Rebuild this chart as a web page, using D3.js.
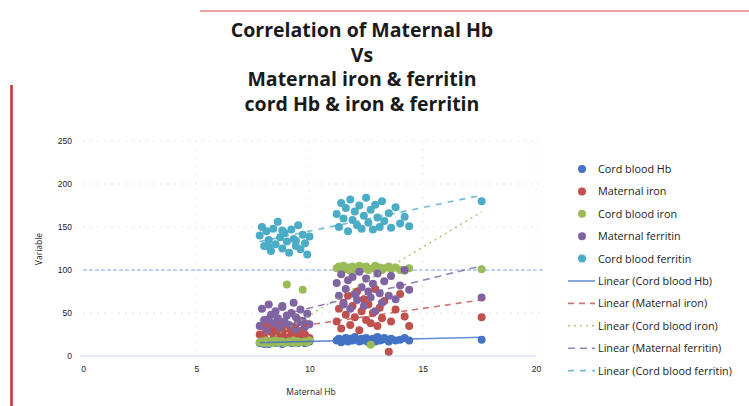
<!DOCTYPE html>
<html>
<head>
<meta charset="utf-8">
<script src="https://cdn.jsdelivr.net/npm/d3@7"></script>
<style>
  body { margin: 0; background: #fff; }
  svg { display: block; font-family: "Open Sans", "Liberation Sans", sans-serif; }
</style>
</head>
<body>
<div id="chart"></div>
<script>
// maternal Hb of each patient (x axis)
let matHb = [7.8, 7.9, 8.0, 8.1, 8.2, 8.3, 8.4, 8.5, 8.6, 8.7, 8.8, 8.9, 9.0, 9.1, 9.2, 9.3, 9.4, 9.5, 9.6, 9.7, 9.8, 9.9, 10.0, 8.2, 8.8, 9.4,
  11.2, 11.3, 11.4, 11.5, 11.6, 11.7, 11.8, 11.9, 12.0, 12.1, 12.2, 12.3, 12.4, 12.5, 12.6, 12.7, 12.8, 12.9, 13.0, 13.1, 13.2, 13.3, 13.5, 13.6, 13.8, 14.0, 14.2, 14.4,
  17.6];

let cordHb = [15, 16, 14, 17, 15, 16, 18, 15, 16, 17, 14, 15, 16, 17, 15, 16, 18, 15, 17, 16, 15, 16, 17, 14, 18, 16,
  18, 20, 16, 19, 21, 17, 20, 18, 22, 19, 17, 20, 18, 21, 16, 19, 20, 17, 22, 18, 19, 21, 17, 20, 18, 19, 21, 18,
  19];
let matIron = [25, 35, 22, 30, 38, 28, 20, 33, 26, 40, 24, 31, 36, 22, 29, 34, 27, 42, 23, 30, 25, 37, 21, 32, 28, 26,
  40, 55, 32, 62, 48, 70, 36, 58, 45, 75, 30, 52, 66, 42, 60, 38, 50, 78, 35, 56, 44, 64, 5, 40, 54, 72, 46, 35,
  45];
let cordIron = [16, 17, 15, 18, 16, 17, 15, 18, 16, 17, 16, 15, 83, 17, 16, 18, 15, 17, 16, 77, 17, 16, 18, 15, 17, 16,
  102, 104, 100, 105, 101, 103, 99, 104, 102, 100, 105, 101, 103, 104, 100, 13, 102, 105, 101, 103, 100, 102, 104, 101, 103, 100, 99, 102,
  101];
let matFerritin = [35, 55, 42, 30, 60, 48, 38, 52, 44, 33, 58, 40, 47, 36, 50, 62, 45, 39, 54, 41, 34, 49, 37, 43, 57, 31,
  85, 70, 95, 60, 78, 88, 55, 92, 72, 65, 98, 80, 58, 90, 75, 68, 84, 52, 96, 73, 62, 87, 70, 93, 66, 82, 100, 77,
  68];
let cordFerritin = [140, 150, 128, 145, 135, 122, 148, 130, 156, 138, 125, 143, 133, 120, 147, 136, 128, 152, 124, 141, 131, 118, 139, 127, 146, 134,
  165, 150, 178, 160, 172, 145, 182, 158, 168, 152, 175, 148, 163, 184, 155, 170, 147, 176, 161, 150, 180, 157, 166, 149, 173, 154, 162, 151,
  180];

let seriesNames = ["Cord blood Hb", "Maternal iron", "Cord blood iron", "Maternal ferritin", "Cord blood ferritin"];
let seriesValues = [cordHb, matIron, cordIron, matFerritin, cordFerritin];
let seriesColors = ["#4472C4", "#C0504D", "#9BBB59", "#8064A2", "#4BACC6"];
let trendDash = [null, "6,5", "2,4", "7,5", "6,6"];

let xTicks = [0, 5, 10, 15, 20];
let yTicks = [0, 50, 100, 150, 200, 250];
let titleLines = ["Correlation of Maternal Hb", "Vs", "Maternal iron & ferritin", "cord Hb & iron & ferritin"];

let width = 749, height = 406;
let svg = d3.select("#chart").append("svg").attr("width", width).attr("height", height);

// decoration lines of the slide
svg.append("line").attr("x1", 200).attr("x2", 749).attr("y1", 11).attr("y2", 11)
  .attr("stroke", "#eba3a3").attr("stroke-width", 2);
svg.append("line").attr("x1", 11.5).attr("x2", 11.5).attr("y1", 85).attr("y2", 406)
  .attr("stroke", "#c9302c").attr("stroke-width", 2.5);

// title
svg.append("g").selectAll("text").data(titleLines).enter().append("text")
  .attr("x", 362).attr("y", (d, i) => 37 + i * 24.5)
  .attr("text-anchor", "middle").attr("font-size", 19.5).attr("font-weight", "bold")
  .attr("fill", "#1a1a1a").text(d => d);

let xScale = d3.scaleLinear().domain([0, 20]).range([83, 536]);
let yScale = d3.scaleLinear().domain([0, 250]).range([356, 141]);

// gridlines
svg.append("g").selectAll("line").data(yTicks.filter(t => t > 0)).enter().append("line")
  .attr("x1", 83).attr("x2", 545)
  .attr("y1", d => yScale(d)).attr("y2", d => yScale(d))
  .attr("stroke", d => d === 100 ? "#aac4ee" : "#dde7f7")
  .attr("stroke-width", d => d === 100 ? 1.3 : 1)
  .attr("stroke-dasharray", d => d === 100 ? "4,2" : "2,5");
svg.append("g").selectAll("line").data(xTicks.filter(t => t > 0)).enter().append("line")
  .attr("x1", d => xScale(d)).attr("x2", d => xScale(d))
  .attr("y1", yScale(250)).attr("y2", yScale(0))
  .attr("stroke", "#e2ebf8").attr("stroke-dasharray", "2,6");

// axes
let xAxis = d3.axisBottom(xScale).tickValues(xTicks).tickSize(0).tickPadding(10);
let gx = svg.append("g").attr("transform", "translate(0," + yScale(0) + ")").call(xAxis);
gx.select(".domain").attr("stroke", "#c5d6f0").attr("d", "M80,0H536");
gx.selectAll("text").attr("font-size", 8.5).attr("fill", "#222");

let yAxis = d3.axisLeft(yScale).tickValues(yTicks).tickSize(0).tickPadding(8);
let gy = svg.append("g").attr("transform", "translate(80,0)").call(yAxis);
gy.select(".domain").remove();
gy.selectAll("text").attr("font-size", 8.5).attr("fill", "#222");

svg.append("text").attr("x", 311).attr("y", 395).attr("text-anchor", "middle")
  .attr("font-size", 8.5).attr("fill", "#222").text("Maternal Hb");
svg.append("text").attr("transform", "translate(42,249) rotate(-90)").attr("text-anchor", "middle")
  .attr("font-size", 8.5).attr("fill", "#222").text("Variable");

// linear trend of a series against maternal Hb
function linearFit(ys) {
  let mx = d3.mean(matHb), my = d3.mean(ys);
  let sxy = d3.sum(matHb, (x, i) => (x - mx) * (ys[i] - my));
  let sxx = d3.sum(matHb, x => (x - mx) * (x - mx));
  let b = sxy / sxx;
  let a = my - b * mx;
  let xs = d3.extent(matHb);
  return xs.map(x => [x, a + b * x]);
}

// points
seriesValues.forEach(function(vals, s) {
  svg.append("g").selectAll("circle").data(vals).enter().append("circle")
    .attr("cx", (d, i) => xScale(matHb[i]))
    .attr("cy", d => yScale(d))
    .attr("r", 4)
    .attr("fill", seriesColors[s]);
});

// trendlines
let line = d3.line().x(d => xScale(d[0])).y(d => yScale(d[1]));
seriesValues.forEach(function(vals, s) {
  svg.append("path").datum(linearFit(vals))
    .attr("d", line).attr("fill", "none")
    .attr("stroke", seriesColors[s]).attr("stroke-width", 1.6)
    .attr("stroke-opacity", 0.8)
    .attr("stroke-dasharray", trendDash[s]);
});

// legend
let legend = svg.append("g").attr("font-size", 10.8).attr("fill", "#222");
seriesNames.forEach(function(name, s) {
  let y = 169 + s * 22.4;
  legend.append("circle").attr("cx", 582).attr("cy", y).attr("r", 4).attr("fill", seriesColors[s]);
  legend.append("text").attr("x", 598).attr("y", y + 4).text(name);
});
seriesNames.forEach(function(name, s) {
  let y = 281 + s * 22.4;
  legend.append("line").attr("x1", 568).attr("x2", 595).attr("y1", y).attr("y2", y)
    .attr("stroke", seriesColors[s]).attr("stroke-width", 1.6).attr("stroke-opacity", 0.8)
    .attr("stroke-dasharray", trendDash[s]);
  legend.append("text").attr("x", 598).attr("y", y + 4).text("Linear (" + name + ")");
});
</script>
</body>
</html>
